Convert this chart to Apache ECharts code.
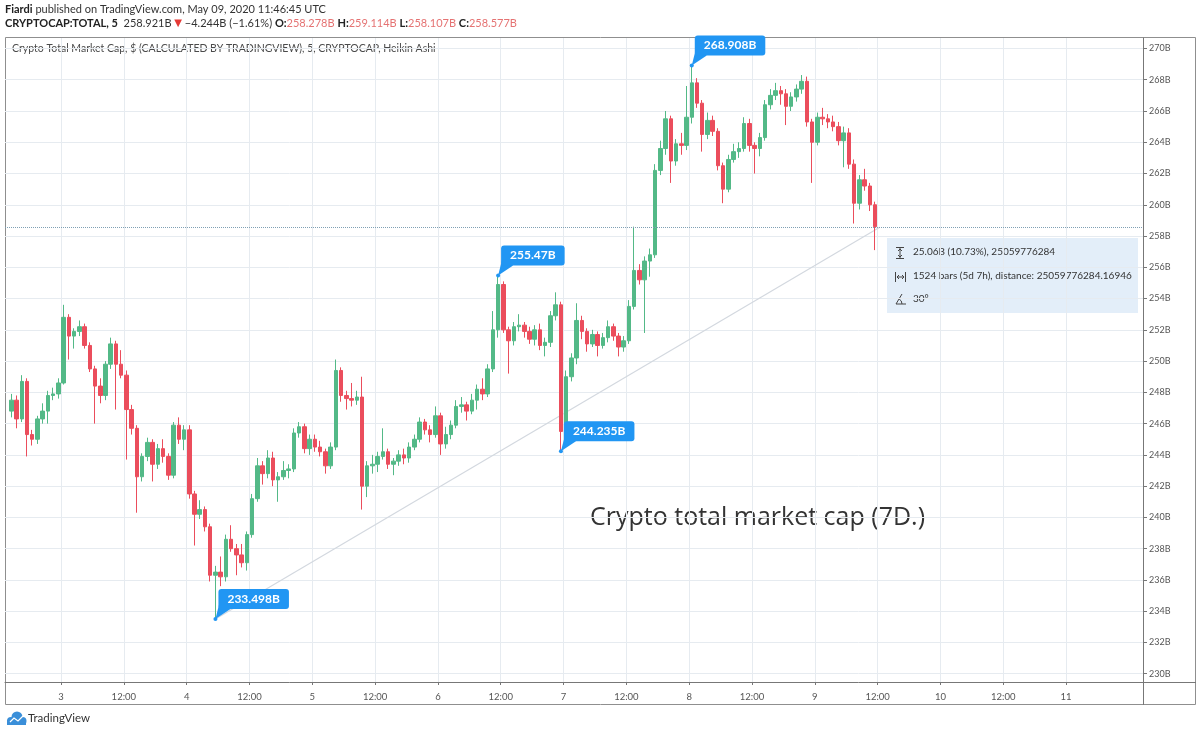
<!DOCTYPE html>
<html><head><meta charset="utf-8">
<script src="https://cdn.jsdelivr.net/npm/echarts@6/dist/echarts.min.js"></script>
<style>html,body{margin:0;padding:0;background:#fff}#c{width:1200px;height:735px}</style>
</head><body><div id="c"></div>
<script>
// hourly candles; hour index counted from May 2 00:00
const startHour = 14;
const opens = [
246.8,247.5,246.3,248.7,245.3,245.0,246.3,246.8,247.8,247.9,
248.6,252.8,251.6,251.9,252.2,251.0,249.5,248.4,247.8,249.8,
251.1,249.8,249.1,246.9,245.7,242.6,243.9,244.8,243.4,244.4,
243.9,242.7,245.9,245.0,245.6,241.5,240.2,240.5,239.4,236.3,
236.5,236.2,238.6,238.0,237.6,237.1,238.9,241.2,243.3,242.8,
243.8,242.4,242.6,243.0,243.1,245.4,245.8,244.4,245.0,244.5,
244.2,243.3,244.5,249.4,247.8,247.6,247.5,247.7,242.0,243.3,
243.4,243.9,244.2,243.4,243.6,244.0,243.8,244.5,245.0,246.1,
245.6,245.3,246.5,244.7,245.3,245.9,247.1,247.2,246.8,247.5,
248.2,247.9,249.5,252.0,254.9,252.0,251.3,252.2,252.3,251.9,
251.4,252.0,251.0,251.2,252.9,253.6,245.5,249.0,250.2,252.6,
251.9,251.1,251.7,251.0,251.5,252.2,251.6,250.9,251.3,253.5,
255.8,255.2,256.4,256.8,262.2,263.6,265.5,262.8,263.9,263.8,
265.6,267.8,266.5,264.5,265.4,264.7,262.5,261.0,262.9,263.4,
263.6,265.2,263.8,263.6,264.3,266.4,267.0,267.3,267.1,266.3,
266.9,267.4,267.9,265.3,264.0,265.6,265.5,265.3,265.0,264.1,
264.6,262.6,260.1,261.6,261.2,260.0];
const closes = [
247.5,246.3,248.7,245.3,245.0,246.3,246.8,247.8,247.9,248.6,
252.8,251.6,251.9,252.2,251.0,249.5,248.4,247.8,249.8,251.1,
249.8,249.1,246.9,245.7,242.6,243.9,244.8,243.4,244.4,243.9,
242.7,245.9,245.0,245.6,241.5,240.2,240.5,239.4,236.3,236.5,
236.2,238.6,238.0,237.6,237.1,238.9,241.2,243.3,242.8,243.8,
242.4,242.6,243.0,243.1,245.4,245.8,244.4,245.0,244.5,244.2,
243.3,244.5,249.4,247.8,247.6,247.5,247.7,242.0,243.3,243.4,
243.9,244.2,243.4,243.6,244.0,243.8,244.5,245.0,246.1,245.6,
245.3,246.5,244.7,245.3,245.9,247.1,247.2,246.8,247.5,248.2,
247.9,249.5,252.0,254.9,252.0,251.3,252.2,252.3,251.9,251.4,
252.0,251.0,251.2,252.9,253.6,245.5,249.0,250.2,252.6,251.9,
251.1,251.7,251.0,251.5,252.2,251.6,250.9,251.3,253.5,255.8,
255.2,256.4,256.8,262.2,263.6,265.5,262.8,263.9,263.8,265.6,
267.8,266.5,264.5,265.4,264.7,262.5,261.0,262.9,263.4,263.6,
265.2,263.8,263.6,264.3,266.4,267.0,267.3,267.1,266.3,266.9,
267.4,267.9,265.3,264.0,265.6,265.5,265.3,265.0,264.1,264.6,
262.6,260.1,261.6,261.2,260.0,258.6];
const highs = [
247.9,247.8,249.1,248.9,245.6,246.5,247.3,248.1,248.3,248.9,
253.6,253.0,252.1,252.6,252.4,251.2,249.7,248.9,250.0,251.5,
251.3,250.7,249.4,247.2,245.9,244.1,245.1,245.0,244.7,245.0,
244.1,246.1,246.4,245.9,245.9,241.7,241.1,240.7,239.6,236.9,
237.5,238.9,239.5,238.3,238.3,239.1,241.5,243.8,243.6,244.3,
244.2,242.9,243.6,243.4,245.7,246.1,246.0,245.3,245.3,244.9,
244.4,244.8,250.1,249.6,248.1,248.6,248.1,249.0,243.6,244.0,
244.2,245.7,244.4,243.8,244.3,244.4,244.8,245.3,246.4,246.3,
245.9,247.1,246.7,245.8,246.2,247.5,247.7,247.4,247.9,248.5,
248.9,249.8,253.2,255.47,255.1,252.2,252.5,253.0,252.5,252.2,
252.3,252.4,251.5,253.2,254.4,253.8,249.4,250.5,253.7,252.9,
252.1,252.0,251.9,251.8,252.6,252.4,251.8,251.6,253.9,258.6,
256.2,256.7,257.2,262.6,264.1,266.0,265.7,264.2,264.6,267.6,
268.908,268.1,266.7,265.9,265.7,264.9,262.7,263.2,263.9,264.0,
265.6,265.5,264.0,264.6,266.7,267.4,267.8,267.6,267.4,267.2,
267.7,268.3,268.2,265.5,265.9,266.2,265.8,265.7,265.3,265.0,
264.9,262.9,261.9,262.3,261.4,260.2];
const lows = [
246.4,245.7,246.1,243.9,244.6,244.7,246.0,246.0,247.5,247.6,
248.5,250.1,250.8,251.6,250.8,249.3,246.0,247.3,247.5,249.5,
246.9,248.9,243.7,245.3,240.3,242.3,243.6,242.3,243.1,243.5,
242.4,242.5,244.7,244.3,241.2,238.2,239.9,239.1,235.9,233.498,
235.6,235.9,237.8,236.3,236.8,236.6,238.7,241.0,242.1,242.5,
242.0,241.0,242.4,242.5,242.9,245.1,244.1,244.0,244.2,243.9,
242.8,243.1,244.3,247.4,246.9,247.1,247.2,240.5,241.3,242.8,
242.9,243.7,243.1,242.7,243.3,243.4,243.5,244.3,244.8,245.3,
244.8,245.1,244.0,244.4,245.0,245.7,246.7,246.2,246.6,246.9,
247.5,247.7,249.3,251.5,251.8,249.2,251.0,251.9,251.5,251.1,
251.0,250.7,250.3,250.9,252.6,244.235,245.2,248.7,249.8,251.4,
250.6,250.9,250.3,250.8,251.2,251.3,250.3,250.6,251.1,253.3,
254.9,251.8,255.4,256.6,261.9,263.2,261.4,262.5,263.2,263.5,
265.2,266.2,263.4,264.2,264.4,262.2,260.1,260.8,262.7,263.0,
263.4,263.4,262.0,263.1,264.1,266.1,266.7,266.4,265.1,266.0,
266.6,267.1,265.0,261.4,263.8,265.1,264.9,264.7,263.8,262.4,
262.3,258.8,259.7,260.9,259.6,257.1];

const xTickHours = [24,36,48,60,72,84,96,108,120,132,144,156,168,180,192,204,216];
const xTickLabels = ['3','12:00','4','12:00','5','12:00','6','12:00','7','12:00','8','12:00','9','12:00','10','12:00','11'];
const yTickValues = [230,232,234,236,238,240,242,244,246,248,250,252,254,256,258,260,262,264,266,268,270];

const annHours = [53.5, 107.5, 119.5, 144.5];
const annValues = [233.498, 255.47, 244.235, 268.908];
const trendHours = [53.5, 180.4];
const trendValues = [233.498, 258.558];
const lastClose = 258.577;

const UP = '#53b987', DOWN = '#eb4d5c', BLUE = '#2196f3';
const FONT = 'Lato';

const candles = opens.map((o, i) => [startHour + i + 0.5, o, closes[i], lows[i], highs[i]]);

const chart = echarts.init(document.getElementById('c'), null, {renderer: 'canvas'});
chart.setOption({
  animation: false,
  backgroundColor: '#fff',
  grid: {left: 5, right: 57, top: 38, bottom: 53, containLabel: false},
  xAxis: {
    type: 'value', min: 13.3, max: 230.7,
    axisLine: {show: true, lineStyle: {color: '#777', width: 1}},
    axisTick: {show: true, length: 3, lineStyle: {color: '#777'}, customValues: xTickHours},
    axisLabel: {customValues: xTickHours, color: '#555', fontSize: 9.5, fontFamily: FONT, margin: 10,
      formatter: v => xTickLabels[xTickHours.indexOf(v)] || ''},
    splitLine: {show: true, lineStyle: {color: '#e6ebf0', width: 1}}
  },
  yAxis: {
    type: 'value', position: 'right', min: 229.47, max: 270.67, scale: true,
    axisLine: {show: true, lineStyle: {color: '#777', width: 1}},
    axisTick: {show: true, length: 4, lineStyle: {color: '#777'}, customValues: yTickValues},
    axisLabel: {customValues: yTickValues, color: '#555', fontSize: 9, fontFamily: FONT, margin: 6,
      formatter: v => v + 'B'},
    splitLine: {show: true, lineStyle: {color: '#e6ebf0', width: 1}}
  },
  series: [
    {
      type: 'line', data: trendHours.map((h, i) => [h, trendValues[i]]),
      symbol: 'none', silent: true, z: 1,
      lineStyle: {color: '#d3d8df', width: 1.2}
    },
    {
      type: 'candlestick', data: candles, barWidth: 4, z: 2,
      itemStyle: {color: UP, color0: DOWN, borderColor: UP, borderColor0: DOWN, borderWidth: 1},
      markLine: {
        silent: true, symbol: ['none', 'none'], label: {show: false},
        lineStyle: {type: 'dotted', color: '#7fa0b4', width: 1},
        data: [{yAxis: lastClose}]
      }
    },
    {
      type: 'custom', z: 5, silent: true,
      data: annHours.map((h, i) => [h, annValues[i]]),
      renderItem: function (params, api) {
        const p = api.coord([api.value(0), api.value(1)]);
        const bx = p[0] + 3, by = p[1] - 10;
        return {
          type: 'group', children: [
            {type: 'polygon', shape: {points: [[p[0], p[1]], [bx + 1, by - 6], [bx + 12, by]]}, style: {fill: BLUE}},
            {type: 'circle', shape: {cx: p[0], cy: p[1], r: 2}, style: {fill: BLUE}},
            {type: 'text', x: bx, y: by, style: {
              text: api.value(1) + 'B', fill: '#fff', backgroundColor: BLUE,
              padding: [4, 9, 4, 9], borderRadius: 3,
              fontSize: 12, fontWeight: 'bold', fontFamily: FONT,
              align: 'left', verticalAlign: 'bottom'
            }}
          ]
        };
      }
    }
  ],
  graphic: [
    {type: 'rect', silent: true, z: -10, shape: {x: 5.5, y: 37.5, width: 1190, height: 667},
      style: {fill: 'none', stroke: '#8f8f8f', lineWidth: 1}},
    {type: 'line', silent: true, shape: {x1: 1143, y1: 682.5, x2: 1196, y2: 682.5}, style: {stroke: '#777', lineWidth: 1}},
    {type: 'line', silent: true, shape: {x1: 1143.5, y1: 682, x2: 1143.5, y2: 705}, style: {stroke: '#777', lineWidth: 1}},
    {type: 'text', x: 5, y: 4, style: {
      text: '{b|Fiardi} published on TradingView.com, May 09, 2020 11:46:45 UTC',
      fontSize: 11, fontFamily: FONT, fill: '#333',
      rich: {b: {fontSize: 11, fontFamily: FONT, fontWeight: 'bold', fill: '#222'}}
    }},
    {type: 'text', x: 5, y: 18, style: {
      text: '{b|CRYPTOCAP:TOTAL, 5}  258.921B {r|▼} −4.244B (−1.61%) {b|O:}{v|258.278B} {b|H:}{v|259.114B} {b|L:}{v|258.107B} {b|C:}{v|258.577B}',
      fontSize: 11, fontFamily: FONT, fill: '#333',
      rich: {
        b: {fontSize: 11, fontFamily: FONT, fontWeight: 'bold', fill: '#222'},
        r: {fontSize: 10, fontFamily: 'DejaVu Sans', fill: '#e53935'},
        v: {fontSize: 11, fontFamily: FONT, fill: '#e57373'}
      }
    }},
    {type: 'text', x: 12, y: 43, style: {
      text: 'Crypto Total Market Cap, $ (CALCULATED BY TRADINGVIEW), 5, CRYPTOCAP, Heikin Ashi',
      fontSize: 10.5, fontFamily: FONT, fill: '#4a4a4a'
    }},
    {type: 'text', x: 590, y: 505, style: {
      text: 'Crypto total market cap (7D.)', fontSize: 25, fontFamily: 'Open Sans', fill: '#333'
    }},
    {type: 'rect', silent: true, shape: {x: 887, y: 238, width: 251, height: 75},
      style: {fill: '#e3eef9'}},
    {type: 'group', silent: true, children: [
      {type: 'line', shape: {x1: 900, y1: 248, x2: 900, y2: 258}, style: {stroke: '#444', lineWidth: 1}},
      {type: 'line', shape: {x1: 896, y1: 247.5, x2: 904, y2: 247.5}, style: {stroke: '#444', lineWidth: 1}},
      {type: 'line', shape: {x1: 896, y1: 258.5, x2: 904, y2: 258.5}, style: {stroke: '#444', lineWidth: 1}},
      {type: 'polyline', shape: {points: [[898, 251], [900, 249], [902, 251]]}, style: {stroke: '#444', fill: 'none'}},
      {type: 'polyline', shape: {points: [[898, 255], [900, 257], [902, 255]]}, style: {stroke: '#444', fill: 'none'}},
      {type: 'line', shape: {x1: 895.5, y1: 272, x2: 895.5, y2: 282}, style: {stroke: '#444', lineWidth: 1}},
      {type: 'line', shape: {x1: 905.5, y1: 272, x2: 905.5, y2: 282}, style: {stroke: '#444', lineWidth: 1}},
      {type: 'line', shape: {x1: 897, y1: 277, x2: 904, y2: 277}, style: {stroke: '#444', lineWidth: 1}},
      {type: 'polyline', shape: {points: [[899, 275], [897, 277], [899, 279]]}, style: {stroke: '#444', fill: 'none'}},
      {type: 'polyline', shape: {points: [[902, 275], [904, 277], [902, 279]]}, style: {stroke: '#444', fill: 'none'}},
      {type: 'polyline', shape: {points: [[902, 294], [896, 304], [906, 304]]}, style: {stroke: '#444', fill: 'none'}},
      {type: 'arc', shape: {cx: 896, cy: 304, r: 6, startAngle: -Math.PI / 3, endAngle: 0}, style: {stroke: '#444', fill: 'none'}}
    ]},
    {type: 'text', x: 913, y: 247, style: {text: '25.06B (10.73%), 25059776284', fontSize: 10, fontFamily: FONT, fill: '#333'}},
    {type: 'text', x: 913, y: 271, style: {text: '1524 bars (5d 7h), distance: 25059776284.16946', fontSize: 10, fontFamily: FONT, fill: '#333'}},
    {type: 'text', x: 913, y: 294, style: {text: '30°', fontSize: 10, fontFamily: FONT, fill: '#333'}},
    {type: 'group', silent: true, children: [
      {type: 'circle', shape: {cx: 11, cy: 721, r: 4}, style: {fill: '#3a8fd9'}},
      {type: 'circle', shape: {cx: 17, cy: 717, r: 5.5}, style: {fill: '#3a8fd9'}},
      {type: 'circle', shape: {cx: 22.5, cy: 721, r: 4}, style: {fill: '#3a8fd9'}},
      {type: 'rect', shape: {x: 7, y: 720, width: 19, height: 5}, style: {fill: '#3a8fd9'}},
      {type: 'polyline', shape: {points: [[10, 722], [14, 718], [18, 721], [23, 716]]}, style: {stroke: '#fff', lineWidth: 1.2, fill: 'none'}}
    ]},
    {type: 'text', x: 28, y: 712, style: {text: 'TradingView', fontSize: 11.5, fontFamily: FONT, fill: '#333'}}
  ]
});
</script>
</body></html>
